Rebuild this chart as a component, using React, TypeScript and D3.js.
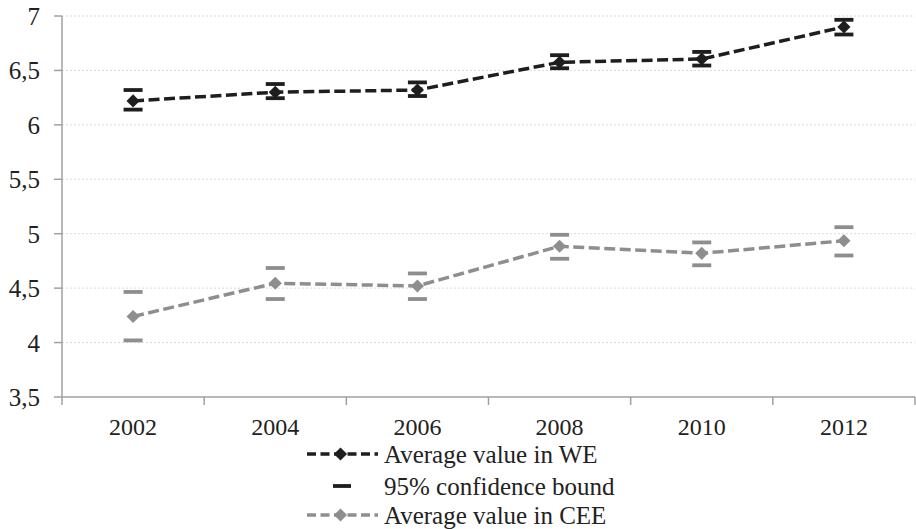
import React from "react";
import * as d3 from "d3";

const years = ["2002", "2004", "2006", "2008", "2010", "2012"];
const weMean = [6.22, 6.3, 6.32, 6.575, 6.605, 6.9];
const weUpper = [6.32, 6.375, 6.39, 6.64, 6.67, 6.965];
const weLower = [6.14, 6.245, 6.265, 6.52, 6.545, 6.83];
const ceeMean = [4.24, 4.545, 4.52, 4.885, 4.82, 4.935];
const ceeUpper = [4.465, 4.685, 4.635, 4.99, 4.92, 5.06];
const ceeLower = [4.02, 4.4, 4.4, 4.77, 4.71, 4.8];
const yTicks = [3.5, 4, 4.5, 5, 5.5, 6, 6.5, 7];
const legendLabels = ["Average value in WE", "95% confidence bound", "Average value in CEE"];

const W = 916;
const H = 529;
const left = 62;
const right = 915;
const top = 16;
const bottom = 397;
const BLACK = "#1e1e1e";
const GRAY = "#8e8e8e";
const FONT = '"Liberation Serif", "Times New Roman", "Liberation Sans", Arial, sans-serif';

export default function App() {
  const x = d3.scaleBand<string>().domain(years).range([left, right]).padding(0);
  const y = d3.scaleLinear().domain([3.5, 7]).range([bottom, top]);
  const cx = (yr: string) => (x(yr) as number) + x.bandwidth() / 2;
  const line = d3.line<number>().x((_, i) => cx(years[i])).y((v) => y(v));
  const fmt = (v: number) => String(v).replace(".", ",");
  const diamond = d3.symbol().type(d3.symbolDiamond2).size(110);
  const capW = 19;

  const series = [
    { mean: weMean, up: weUpper, lo: weLower, color: BLACK },
    { mean: ceeMean, up: ceeUpper, lo: ceeLower, color: GRAY },
  ];

  const legX0 = 307;
  const legX1 = 378;
  const legMid = (legX0 + legX1) / 2;
  const legText = 384;
  const legRows = [454, 486, 515];
  const textStyle = { fontFamily: FONT };

  return (
    <svg width={W} height={H} style={{ position: "absolute", left: 0, top: 0, background: "#fff", fontFamily: FONT }}>
      <rect x={0} y={0} width={W} height={H} fill="#fff" />
      {yTicks.map((t) =>
        t === 3.5 ? null : (
          <line key={"g" + t} x1={left} x2={right} y1={y(t)} y2={y(t)} stroke="#dadada" strokeWidth={1} strokeDasharray="2 2" />
        )
      )}
      <line x1={left} x2={left} y1={top} y2={bottom} stroke="#a0a0a0" strokeWidth={1.5} />
      <line x1={left} x2={right} y1={bottom} y2={bottom} stroke="#a0a0a0" strokeWidth={1.5} />
      {yTicks.map((t) => (
        <g key={"yt" + t}>
          <line x1={left - 8} x2={left} y1={y(t)} y2={y(t)} stroke="#a0a0a0" strokeWidth={1.5} />
          <text x={40} y={y(t)} dy="0.36em" textAnchor="end" fontSize={25} fill="#222" style={textStyle}>
            {fmt(t)}
          </text>
        </g>
      ))}
      {[...years.map((yr) => x(yr) as number), right].map((v, i) => (
        <line key={"xt" + i} x1={v} x2={v} y1={bottom} y2={bottom + 8} stroke="#a0a0a0" strokeWidth={1.5} />
      ))}
      {years.map((yr) => (
        <text key={"xl" + yr} x={cx(yr)} y={435} textAnchor="middle" fontSize={24} fill="#222" style={textStyle}>
          {yr}
        </text>
      ))}
      {series.map((s, si) => (
        <g key={"s" + si}>
          <path d={line(s.mean) as string} fill="none" stroke={s.color} strokeWidth={3.5} strokeDasharray="11 4.5" />
          {years.map((yr, i) => (
            <g key={yr}>
              <line x1={cx(yr) - capW / 2} x2={cx(yr) + capW / 2} y1={y(s.up[i])} y2={y(s.up[i])} stroke={s.color} strokeWidth={3.8} />
              <line x1={cx(yr) - capW / 2} x2={cx(yr) + capW / 2} y1={y(s.lo[i])} y2={y(s.lo[i])} stroke={s.color} strokeWidth={3.8} />
              <path d={diamond() as string} transform={`translate(${cx(yr)},${y(s.mean[i])})`} fill={s.color} />
            </g>
          ))}
        </g>
      ))}
      <line x1={legX0} x2={legX1} y1={legRows[0]} y2={legRows[0]} stroke={BLACK} strokeWidth={3.5} strokeDasharray="9 4.5" />
      <path d={diamond() as string} transform={`translate(${legMid - 2},${legRows[0]})`} fill={BLACK} />
      <line x1={333} x2={351} y1={legRows[1]} y2={legRows[1]} stroke={BLACK} strokeWidth={3.8} />
      <line x1={legX0} x2={legX1} y1={legRows[2]} y2={legRows[2]} stroke={GRAY} strokeWidth={3.5} strokeDasharray="9 4.5" />
      <path d={diamond() as string} transform={`translate(${legMid - 2},${legRows[2]})`} fill={GRAY} />
      {legendLabels.map((l, i) => (
        <text key={l} x={legText} y={legRows[i]} dy="0.36em" fontSize={25} fill="#222" style={textStyle}>
          {l}
        </text>
      ))}
    </svg>
  );
}
